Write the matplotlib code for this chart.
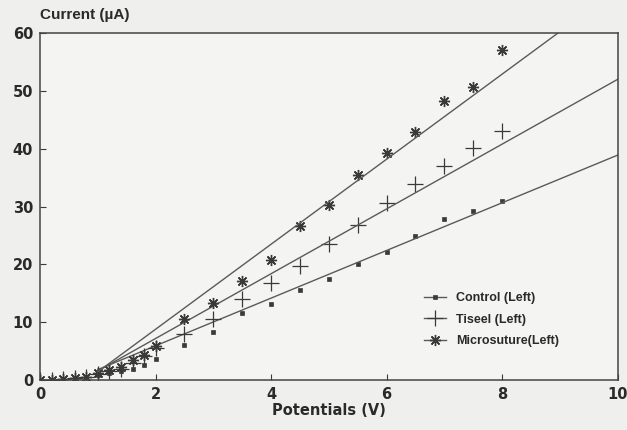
import numpy as np
import matplotlib.pyplot as plt

# potentials (V)
potential = [0, 0.2, 0.4, 0.6, 0.8, 1.0, 1.2, 1.4, 1.6, 1.8, 2.0,
             2.5, 3.0, 3.5, 4.0, 4.5, 5.0, 5.5, 6.0, 6.5, 7.0, 7.5, 8.0]

# current (uA)
control = [0, 0.1, 0.1, 0.2, 0.5, 0.9, 1.2, 1.6, 2.0, 2.6, 3.6,
           6.0, 8.3, 11.6, 13.1, 15.6, 17.5, 20.0, 22.1, 24.9, 27.8, 29.3, 31.0]
tiseel = [0, 0.1, 0.2, 0.3, 0.6, 1.1, 1.5, 2.0, 3.0, 4.1, 5.5,
          8.0, 10.6, 14.0, 16.8, 19.7, 23.6, 26.8, 30.6, 33.9, 37.0, 40.2, 43.1]
micro = [0, 0.1, 0.2, 0.3, 0.6, 1.2, 1.7, 2.3, 3.5, 4.3, 5.9,
         10.6, 13.4, 17.2, 20.8, 26.6, 30.3, 35.4, 39.3, 42.9, 48.2, 50.6, 57.0]

# fitted lines (slope, intercept), drawn from 1 V on
labels = ['Control (Left)', 'Tiseel (Left)', 'Microsuture(Left)']
fit_slope = [4.12, 5.6, 7.35]
fit_intercept = [-2.3, -4.0, -5.9]
fit_start = 1.0

ink = '#3a3a3a'
paper = '#efefed'

fig = plt.figure(figsize=(6.27, 4.30), dpi=100, facecolor=paper)
ax = fig.add_axes([0.064, 0.116, 0.921, 0.807])
ax.set_facecolor('#f4f4f2')

plt.rcParams['font.family'] = ['Liberation Sans', 'DejaVu Sans']

xs = np.array(potential)
line_x = np.linspace(fit_start, 10, 50)
series = [control, tiseel, micro]
markers = [dict(marker='s', ms=2.2, mew=0.5),
           dict(marker='+', ms=11, mew=0.9),
           dict(marker=(8, 2, 0), ms=8, mew=1.0)]

handles = []
for ys, m, k, b, lab in zip(series, markers, fit_slope, fit_intercept, labels):
    ax.plot(xs, ys, ls='none', color=ink, mec=ink, mfc=ink, **m)
    ax.plot(line_x, k * line_x + b, color='#5a5a5a', lw=1.0)
    h, = ax.plot([], [], color='#5a5a5a', lw=1.0, mec=ink, mfc=ink, **m)
    handles.append(h)

ax.set_xlim(0, 10)
ax.set_ylim(0, 60)
ax.set_xticks([0, 2, 4, 6, 8, 10])
ax.set_yticks([0, 10, 20, 30, 40, 50, 60])
ax.tick_params(direction='in', length=4, width=0.8, color=ink,
               labelsize=10.5, labelcolor='#2a2a2a', pad=5)
for lbl in ax.get_xticklabels() + ax.get_yticklabels():
    lbl.set_fontweight('bold')
for s in ax.spines.values():
    s.set_color('#444444')
    s.set_linewidth(1.1)

ax.set_xlabel('Potentials (V)', fontsize=10.5, fontweight='bold', color='#2a2a2a', labelpad=1)
fig.text(0.064, 0.955, 'Current (µA)', fontsize=11, fontweight='bold', color='#2a2a2a')

leg = ax.legend(handles, labels, loc='upper left', bbox_to_anchor=(0.645, 0.285),
                frameon=False, fontsize=9, handlelength=1.8, labelspacing=0.75)
for t in leg.get_texts():
    t.set_fontweight('bold')
    t.set_color('#2a2a2a')

fig.savefig('out.png', dpi=100, facecolor=paper)
